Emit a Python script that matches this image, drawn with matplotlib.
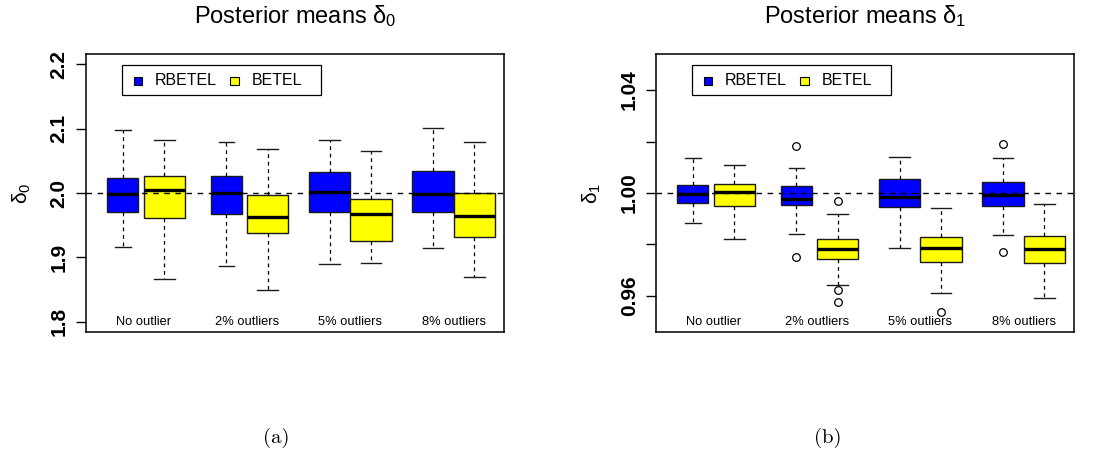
import matplotlib
matplotlib.use("Agg")
import matplotlib.pyplot as plt
from matplotlib.patches import Rectangle

plt.rcParams['font.family'] = ['Liberation Sans', 'DejaVu Sans']
plt.rcParams['mathtext.fontset'] = 'custom'
plt.rcParams['mathtext.rm'] = 'Liberation Sans'
plt.rcParams['mathtext.it'] = 'Liberation Sans:italic'
plt.rcParams['mathtext.bf'] = 'Liberation Sans:bold'

# ---------------- data ----------------
groups = ["No outlier", "2% outliers", "5% outliers", "8% outliers"]
methods = ["RBETEL", "BETEL"]

# five-number summaries: [lower whisker, Q1, median, Q3, upper whisker]
d0_rbetel = [[1.916, 1.971, 1.998, 2.023, 2.098],
             [1.887, 1.968, 2.000, 2.026, 2.079],
             [1.889, 1.971, 2.001, 2.032, 2.083],
             [1.915, 1.971, 1.998, 2.034, 2.101]]
d0_betel = [[1.866, 1.961, 2.005, 2.026, 2.083],
            [1.850, 1.938, 1.963, 1.997, 2.068],
            [1.891, 1.925, 1.968, 1.991, 2.066],
            [1.869, 1.932, 1.964, 2.000, 2.080]]
d0_rbetel_out = [[], [], [], []]
d0_betel_out = [[], [], [], []]

d1_rbetel = [[0.9885, 0.9960, 0.9998, 1.0033, 1.0135],
             [0.9842, 0.9952, 0.9977, 1.0026, 1.0099],
             [0.9786, 0.9947, 0.9983, 1.0056, 1.0139],
             [0.9836, 0.9949, 0.9992, 1.0042, 1.0136]]
d1_betel = [[0.9820, 0.9948, 1.0005, 1.0035, 1.0109],
            [0.9643, 0.9744, 0.9782, 0.9822, 0.9918],
            [0.9613, 0.9733, 0.9786, 0.9831, 0.9940],
            [0.9591, 0.9729, 0.9784, 0.9834, 0.9959]]
d1_rbetel_out = [[], [1.0181, 0.9752], [], [1.0190, 0.9771]]
d1_betel_out = [[], [0.9970, 0.9622, 0.9577], [0.9539], []]

true_d0 = 2.0
true_d1 = 1.0
d0_ticks = [1.8, 1.9, 2.0, 2.1, 2.2]
d0_ticklabels = ["1.8", "1.9", "2.0", "2.1", "2.2"]
d1_ticks = [0.96, 0.98, 1.00, 1.02, 1.04]
d1_ticklabels = ["0.96", "", "1.00", "", "1.04"]

# ---------------- style ----------------
col_r = "#0000FF"
col_b = "#FFFF00"
box_widths = [0.3, 0.4, 0.3, 0.4, 0.4, 0.4, 0.4, 0.4]
offset = 0.4

W, H = 1104, 476
fig = plt.figure(figsize=(W / 100, H / 100), dpi=100)


def make_stats(summ, outs, label):
    lo, q1, med, q3, hi = summ
    return dict(whislo=lo, q1=q1, med=med, q3=q3, whishi=hi, fliers=outs, label=label)


def panel(ax_rect, rb, be, rb_out, be_out, ylim, ticks, ticklabels, ref, title, ylabel):
    ax = fig.add_axes(ax_rect)
    stats, pos, cols = [], [], []
    for i in range(len(groups)):
        stats.append(make_stats(rb[i], rb_out[i], methods[0]))
        pos.append(i + 1)
        cols.append(col_r)
        stats.append(make_stats(be[i], be_out[i], methods[1]))
        pos.append(i + 1 + offset)
        cols.append(col_b)
    bp = ax.bxp(stats, positions=pos, widths=box_widths, patch_artist=True,
                showfliers=True,
                boxprops=dict(edgecolor="#1a1a1a", linewidth=1.0),
                medianprops=dict(color="black", linewidth=2.4, solid_capstyle="butt"),
                whiskerprops=dict(color="black", linewidth=0.9, linestyle=(0, (3, 3))),
                capprops=dict(color="#1a1a1a", linewidth=1.0),
                flierprops=dict(marker="o", markerfacecolor="none", markeredgecolor="black",
                                markersize=5.5, markeredgewidth=0.9))
    for patch, c in zip(bp["boxes"], cols):
        patch.set_facecolor(c)
    ax.axhline(ref, color="black", linewidth=1.0, linestyle=(0, (4, 4)), zorder=6)

    ax.set_xlim(0.643, 4.687)
    ax.set_ylim(*ylim)
    ax.set_xticks([])
    ax.set_yticks(ticks)
    ax.set_yticklabels(ticklabels, rotation=90, va="center", fontweight="bold", fontsize=15)
    ax.tick_params(axis="y", length=7.5, width=1.0, pad=5)
    for s in ax.spines.values():
        s.set_linewidth(1.1)

    # group labels
    for i, g in enumerate(groups):
        ax.text(i + 1 + offset / 2, 0.035, g, transform=ax.get_xaxis_transform(),
                ha="center", va="center", fontsize=9.3)

    # legend (R-style box)
    ax.add_patch(Rectangle((0.087, 0.853), 0.476, 0.107, transform=ax.transAxes,
                           facecolor="white", edgecolor="black", linewidth=0.9, zorder=7))
    sq_w, sq_h = 8.3 / (ax_rect[2] * W), 8.3 / (ax_rect[3] * H)
    for xs, xt, c, lab in [(0.115, 0.165, col_r, methods[0]), (0.345, 0.396, col_b, methods[1])]:
        ax.add_patch(Rectangle((xs, 0.904 - sq_h / 2), sq_w, sq_h, transform=ax.transAxes,
                               facecolor=c, edgecolor="black", linewidth=0.8, zorder=8))
        ax.text(xt, 0.904, lab, transform=ax.transAxes, ha="left", va="center",
                fontsize=11.5, zorder=8)

    ax.set_title(title, fontsize=17, pad=22)
    ax.set_ylabel(ylabel, fontsize=15, rotation=90, va="center", ha="center")
    ax.yaxis.set_label_coords(-64 / (ax_rect[2] * W), 0.5)
    return ax


ax_h = 278 / H
ax_b = (H - 332) / H
panel([86 / W, ax_b, 418 / W, ax_h], d0_rbetel, d0_betel, d0_rbetel_out, d0_betel_out,
      (1.784, 2.216), d0_ticks, d0_ticklabels, true_d0,
      r"Posterior means $\mathregular{δ_0}$", r"$\mathregular{δ_0}$")
panel([656 / W, ax_b, 418 / W, ax_h], d1_rbetel, d1_betel, d1_rbetel_out, d1_betel_out,
      (0.946, 1.054), d1_ticks, d1_ticklabels, true_d1,
      r"Posterior means $\mathregular{δ_1}$", r"$\mathregular{δ_1}$")

fig.text(0.25, 0.08, "(a)", family="cmr10", fontsize=15, ha="center", va="center")
fig.text(0.75, 0.08, "(b)", family="cmr10", fontsize=15, ha="center", va="center")

fig.savefig("out.png", dpi=100)
